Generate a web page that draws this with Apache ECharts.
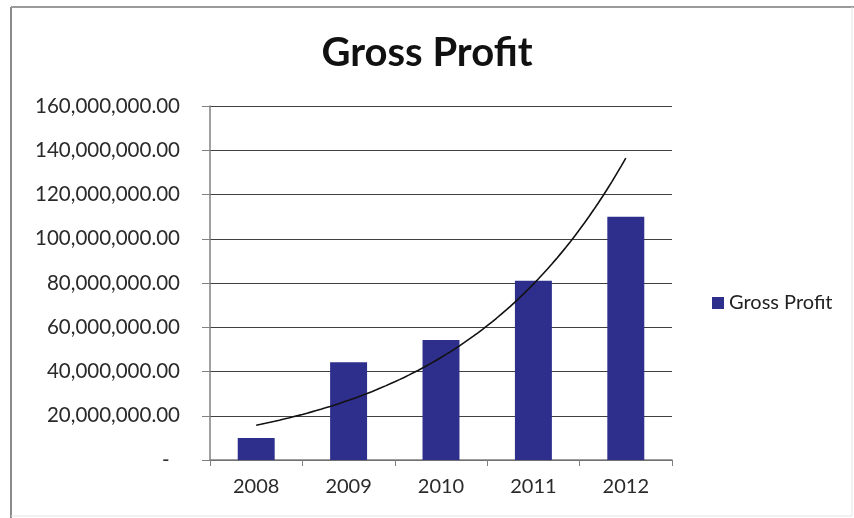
<!DOCTYPE html>
<html>
<head>
<meta charset="utf-8">
<title>Gross Profit</title>
<script src="https://cdn.jsdelivr.net/npm/echarts@6/dist/echarts.min.js"></script>
<style>
  html, body { margin: 0; padding: 0; background: #ffffff; }
  #chart { width: 854px; height: 518px; }
</style>
</head>
<body>
<div id="chart"></div>
<script>
// Yearly gross profit
const years = ['2008', '2009', '2010', '2011', '2012'];
const grossProfit = [10000000, 44200000, 54200000, 81000000, 110000000];
const yTicks = { min: 0, max: 160000000, step: 20000000 };

// Exponential trendline (least squares on ln y), like a spreadsheet trendline
function expTrend(values, samplesPerStep) {
  const n = values.length;
  const xs = values.map((_, i) => i + 1);
  const ls = values.map(v => Math.log(v));
  const mx = xs.reduce((a, b) => a + b, 0) / n;
  const ml = ls.reduce((a, b) => a + b, 0) / n;
  let sxy = 0, sxx = 0;
  for (let i = 0; i < n; i++) {
    sxy += (xs[i] - mx) * (ls[i] - ml);
    sxx += (xs[i] - mx) * (xs[i] - mx);
  }
  const b = sxy / sxx;
  const a = ml - b * mx;
  const pts = [];
  const steps = (n - 1) * samplesPerStep;
  for (let k = 0; k <= steps; k++) {
    const x = 1 + k / samplesPerStep;
    pts.push([x, Math.exp(a + b * x)]);
  }
  return pts;
}

const font = 'Lato, "Open Sans", sans-serif';

function yLabel(v) {
  if (v === 0) return '-  ';
  return v.toLocaleString('en-US', { minimumFractionDigits: 2, maximumFractionDigits: 2 });
}

const chart = echarts.init(document.getElementById('chart'), null, { renderer: 'canvas' });

chart.setOption({
  backgroundColor: '#ffffff',
  animation: false,
  title: {
    text: 'Gross Profit',
    left: 'center',
    top: 28,
    textStyle: { fontFamily: font, fontSize: 40, fontWeight: 'bold', color: '#111111' }
  },
  legend: {
    data: ['Gross Profit'],
    left: 707,
    top: 288,
    icon: 'rect',
    itemWidth: 12,
    itemHeight: 12,
    textStyle: { fontFamily: font, fontSize: 20, color: '#222222' }
  },
  grid: { left: 210, top: 106, right: 182, bottom: 58 },
  xAxis: [
    {
      type: 'category',
      data: years,
      boundaryGap: true,
      axisLine: { lineStyle: { color: '#808080', width: 1.5 } },
      axisTick: { show: true, alignWithLabel: false, length: 6, lineStyle: { color: '#808080' } },
      axisLabel: { fontFamily: font, fontSize: 20, color: '#2a2a2a', margin: 17 }
    },
    {
      type: 'value',
      min: 0.5,
      max: years.length + 0.5,
      show: false
    }
  ],
  yAxis: {
    type: 'value',
    min: yTicks.min,
    max: yTicks.max,
    interval: yTicks.step,
    axisLine: { show: true, lineStyle: { color: '#808080', width: 1.5 } },
    axisTick: { show: true, length: 8, lineStyle: { color: '#808080' } },
    axisLabel: { fontFamily: font, fontSize: 20.5, color: '#2a2a2a', margin: 30, formatter: yLabel },
    splitLine: { show: true, lineStyle: { color: '#404040', width: 1.2 } }
  },
  series: [
    {
      name: 'Gross Profit',
      type: 'bar',
      data: grossProfit,
      barWidth: '40%',
      itemStyle: { color: '#2e2e8c' }
    },
    {
      name: 'Trend',
      type: 'line',
      xAxisIndex: 1,
      data: expTrend(grossProfit, 20),
      showSymbol: false,
      smooth: false,
      lineStyle: { color: '#111111', width: 1.6 },
      z: 5
    }
  ],
  graphic: [
    { type: 'line', shape: { x1: 11, y1: 7, x2: 11, y2: 518 }, style: { stroke: '#8a8a8a', lineWidth: 2 } },
    { type: 'line', shape: { x1: 11, y1: 7, x2: 854, y2: 7 }, style: { stroke: '#9a9a9a', lineWidth: 2 } },
    { type: 'line', shape: { x1: 852, y1: 7, x2: 852, y2: 516 }, style: { stroke: '#e4e4e4', lineWidth: 1 } },
    { type: 'line', shape: { x1: 11, y1: 516, x2: 852, y2: 516 }, style: { stroke: '#e4e4e4', lineWidth: 1 } }
  ]
});
</script>
</body>
</html>
